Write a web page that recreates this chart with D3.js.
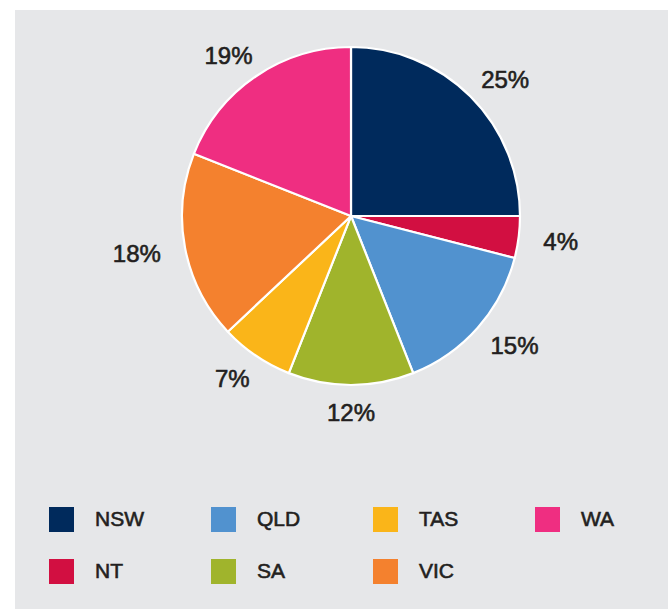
<!DOCTYPE html>
<html>
<head>
<meta charset="utf-8">
<script src="https://cdn.jsdelivr.net/npm/d3@7/dist/d3.min.js"></script>
<style>
  html, body { margin: 0; padding: 0; background: #ffffff; }
  svg { display: block; }
  text { font-family: "Liberation Sans", Arial, Helvetica, sans-serif; fill: #231f20; }
</style>
</head>
<body>
<script>
const categories = ["NSW", "NT", "QLD", "SA", "TAS", "VIC", "WA"];
const values = [25, 4, 15, 12, 7, 18, 19];
const colors = ["#002a5c", "#d20f41", "#5192cf", "#a0b42c", "#fab519", "#f4812e", "#ef2e81"];
const legendOrder = ["NSW", "QLD", "TAS", "WA", "NT", "SA", "VIC"];

const W = 668, H = 609;
const svg = d3.select("body").append("svg").attr("width", W).attr("height", H);

svg.append("rect").attr("x", 15).attr("y", 10).attr("width", W - 15).attr("height", H - 10).attr("fill", "#e6e7e9");

const cx = 351, cy = 216, r = 169;
const color = d3.scaleOrdinal().domain(categories).range(colors);

const data = categories.map((c, i) => ({ cat: c, value: values[i] }));
const pie = d3.pie().value(d => d.value).sort(null);
const arcs = pie(data);
const arc = d3.arc().innerRadius(0).outerRadius(r);

const g = svg.append("g").attr("transform", `translate(${cx},${cy})`);
g.selectAll("path.slice").data(arcs).enter().append("path")
  .attr("class", "slice")
  .attr("d", arc)
  .attr("fill", d => color(d.data.cat))
  .attr("stroke", "#ffffff")
  .attr("stroke-width", 2.2)
  .attr("stroke-linejoin", "round");

// labels
const R0 = 194, Ry = 195;
g.selectAll("text.lbl").data(arcs).enter().append("text")
  .attr("class", "lbl")
  .attr("text-anchor", "middle")
  .attr("dominant-baseline", "central")
  .style("font-size", "24px")
  .style("stroke", "#231f20").style("stroke-width", "0.6px")
  .text(d => d.data.value + "%")
  .each(function(d) {
    const a = (d.startAngle + d.endAngle) / 2;
    const hw = this.getComputedTextLength() / 2;
    const x = Math.sin(a) * (R0 + hw);
    const y = -Math.cos(a) * Ry;
    d3.select(this).attr("x", x).attr("y", y + 1);
  });

// legend
const colX = d3.scalePoint().domain([0, 1, 2, 3]).range([49, 535]);
const rowY = d3.scalePoint().domain([0, 1]).range([507, 559]);
const sw = 25;
const lg = svg.append("g");
legendOrder.forEach((c, i) => {
  const col = i % 4, row = Math.floor(i / 4);
  const x = colX(col), y = rowY(row);
  lg.append("rect").attr("x", x).attr("y", y).attr("width", sw).attr("height", sw).attr("fill", color(c));
  lg.append("text").attr("x", x + 46).attr("y", y + 18.5)
    .style("font-size", "21px")
    .style("stroke", "#231f20").style("stroke-width", "0.6px")
    .text(c);
});
</script>
</body>
</html>
